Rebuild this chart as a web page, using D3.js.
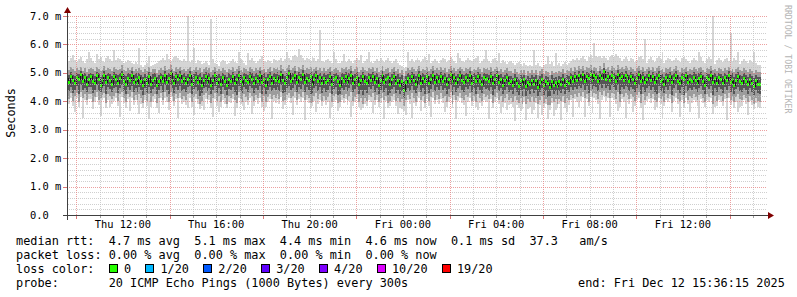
<!DOCTYPE html>
<html>
<head>
<meta charset="utf-8">
<script src="https://cdn.jsdelivr.net/npm/d3@7"></script>
<style>
body { margin: 0; background: #fff; }
svg { display: block; }
text { font-family: "DejaVu Sans Mono", monospace; white-space: pre; }
</style>
</head>
<body>
<svg id="chart" width="797" height="297"></svg>
<script>
// one value per 300s step, first step ends Thu Dec 11 09:40 (values in 1/100 ms)
var median = [
482,468,490,475,463,487,478,495,470,484,461,479,
488,472,466,491,480,458,476,493,469,485,474,462,
489,477,465,483,496,471,460,481,474,492,467,479,
463,485,470,458,478,466,489,460,474,482,457,471,
486,473,494,468,481,499,475,463,488,478,492,470,
481,466,479,493,460,475,487,469,483,458,476,490,
468,482,457,474,491,466,479,462,485,471,459,480,
473,488,465,478,494,470,461,486,476,467,490,479,
464,483,472,491,469,480,458,477,489,466,482,474,
487,471,495,476,463,484,498,472,481,493,467,486,
478,496,469,483,474,489,461,480,492,471,485,463,
482,467,475,490,462,479,486,470,458,483,473,488,
469,481,494,465,477,487,460,475,489,472,463,484,
476,490,468,482,459,474,492,467,480,485,462,478,
488,464,476,459,471,440,468,483,470,490,475,462,
479,493,466,481,472,488,463,477,494,469,484,471,
490,473,482,461,478,495,470,484,466,479,491,474,
467,485,476,492,464,481,470,488,473,462,486,478,
483,470,489,465,477,492,468,480,459,475,487,466,
472,458,480,466,455,474,462,477,453,469,460,476,
461,474,452,467,479,456,470,463,450,472,458,468,
455,470,462,478,457,473,466,484,471,488,476,492,
480,495,472,489,483,497,476,491,485,470,494,482,
508,479,490,474,493,486,471,496,481,488,475,492,
485,470,489,477,464,483,495,473,487,468,480,491,
474,488,467,483,492,470,479,461,486,475,490,469,
482,494,471,463,485,478,491,468,480,473,487,476,
466,483,490,472,459,486,477,492,469,481,464,485,
478,463,487,474,491,468,480,459,476,489,470,465,
483,471,460,478,466,455,474,462,460
];

var pingQ3 = [
497,492,503,494,489,500,496,506,491,499,488,497,
501,495,490,504,498,487,494,507,492,500,496,489,
502,497,491,499,508,493,488,498,495,505,492,499,
488,500,493,485,497,490,503,487,495,498,484,494,
501,494,506,491,499,511,496,489,503,497,505,493,
498,490,496,505,487,495,502,492,499,486,496,503,
492,499,486,494,504,490,497,488,501,493,485,498,
494,502,490,497,507,493,487,501,496,491,504,498,
489,500,494,505,492,498,486,496,503,490,499,495,
502,494,508,496,489,501,510,494,499,506,491,502,
497,509,492,500,495,503,488,498,505,493,501,489,
499,491,496,503,488,497,501,492,485,500,495,502,
492,498,507,490,496,502,487,494,503,493,488,500,
495,504,491,499,486,494,506,490,497,501,487,496,
502,489,495,484,492,470,490,499,493,504,495,488,
496,506,490,498,493,502,488,495,507,492,500,494,
504,494,499,487,496,508,492,500,490,497,505,495,
491,501,495,505,489,498,493,502,495,487,500,497,
499,492,503,489,496,505,491,497,485,494,501,490,
490,482,495,486,478,492,484,494,477,488,482,493,
484,492,477,488,495,480,490,485,475,491,481,487,
480,490,485,495,482,492,488,500,491,503,494,506,
497,508,492,503,499,510,494,505,500,491,507,498,
518,497,504,494,507,501,492,509,498,503,495,506,
500,492,503,496,488,499,508,494,502,490,497,505,
494,502,490,499,506,492,497,486,501,495,504,491,
498,507,493,487,500,496,504,491,497,494,502,495,
490,499,504,494,485,501,496,506,492,498,488,500,
496,488,501,494,505,491,498,485,495,503,492,489,
499,493,486,496,490,482,494,487,485
];

var pingQ1 = [
448,437,452,430,441,455,425,458,439,446,432,450,
451,428,440,456,435,431,447,453,426,449,442,434,
445,452,429,448,457,437,427,450,441,455,433,446,
431,449,438,422,447,430,452,428,443,451,424,440,
453,434,456,441,427,458,445,430,450,439,454,436,
444,431,449,455,426,442,451,437,420,429,446,452,
436,447,424,440,453,430,446,427,449,438,421,444,
439,452,433,423,455,437,428,450,442,434,454,445,
430,448,438,454,425,446,427,441,452,435,447,440,
450,437,458,429,431,448,455,439,446,457,433,451,
443,457,432,449,440,424,428,446,453,436,450,430,
447,433,441,453,427,444,450,422,425,448,439,452,
435,446,456,431,443,451,426,440,421,438,430,449,
442,454,434,447,426,440,455,433,445,423,429,444,
451,430,441,425,437,410,434,448,436,453,441,428,
445,456,432,447,424,452,430,443,457,435,449,438,
453,439,447,427,444,457,421,449,433,445,454,440,
434,449,442,455,431,446,425,451,439,429,450,444,
448,436,452,422,443,455,435,446,427,441,451,432,
438,425,445,433,422,440,419,443,420,436,427,442,
428,440,418,434,445,423,437,415,417,439,425,435,
421,437,429,444,424,440,433,449,438,452,443,455,
446,458,439,453,428,460,443,455,450,437,457,448,
462,445,454,441,456,451,438,458,427,452,442,455,
449,436,452,443,431,448,457,424,450,434,445,454,
440,452,433,426,455,437,445,428,450,441,453,422,
447,456,438,430,449,423,454,435,446,439,451,442,
432,448,453,439,426,450,444,455,421,446,431,449,
444,430,451,440,454,434,447,425,442,452,437,432,
448,438,427,445,433,421,441,429,427
];

var ping90 = [
513,509,519,512,505,518,511,522,507,516,504,514,
517,512,508,521,514,506,511,524,509,517,513,507,
519,513,509,515,526,510,505,516,511,522,508,515,
506,517,510,502,514,507,519,503,512,515,501,511,
518,510,523,509,515,528,513,506,520,514,521,510,
515,507,512,522,505,511,519,509,516,503,512,520,
509,516,504,511,521,507,514,505,518,510,502,515,
511,519,507,514,524,510,504,518,513,508,521,515,
507,517,511,522,509,515,503,513,520,507,516,512,
519,511,526,513,506,518,528,511,516,524,508,519,
514,527,509,517,512,520,505,515,522,510,518,506,
516,508,513,520,505,514,518,509,502,517,512,519,
509,515,524,507,513,519,504,511,520,510,505,517,
512,521,508,516,503,511,523,507,514,518,504,513,
519,506,512,501,509,488,507,516,510,521,512,505,
513,523,507,515,510,519,505,512,524,509,517,511,
521,511,516,504,513,525,509,517,507,514,522,512,
508,518,512,522,506,515,510,519,512,504,517,514,
516,509,520,506,513,522,508,514,502,511,518,507,
507,499,512,503,495,509,501,511,494,505,499,510,
501,509,494,505,512,497,507,502,492,508,498,504,
497,507,502,512,499,509,505,517,508,520,511,523,
514,525,509,520,516,527,511,522,517,508,524,515,
533,514,521,511,524,518,509,526,515,520,512,523,
517,509,520,513,505,516,525,511,519,507,514,522,
511,519,507,516,523,509,514,503,518,512,521,508,
515,524,510,504,517,513,521,508,514,511,519,512,
507,516,521,511,502,518,513,523,509,515,505,517,
513,505,518,511,522,508,515,502,512,520,509,506,
516,510,503,513,507,499,511,504,502
];

var ping10 = [
421,409,428,401,418,430,397,433,412,424,405,426,
427,398,415,432,406,410,423,429,395,425,419,407,
419,428,400,424,433,411,396,426,414,431,403,422,
404,425,410,393,421,402,427,399,417,426,394,413,
429,405,431,415,398,434,420,402,426,411,430,408,
418,403,424,430,396,415,427,409,391,400,421,428,
408,422,395,413,428,401,420,398,424,410,392,417,
411,427,404,394,431,409,399,425,415,406,429,419,
401,423,410,429,396,420,398,414,427,407,421,412,
425,409,433,400,403,422,430,411,420,432,404,426,
416,432,403,423,412,395,399,420,428,408,424,401,
420,404,414,428,398,417,425,393,396,422,411,427,
406,419,431,402,416,426,397,412,392,410,401,423,
414,429,405,421,397,411,430,404,418,394,400,417,
425,401,413,396,409,385,405,422,407,428,413,399,
418,431,403,420,395,426,401,415,432,406,423,409,
428,411,419,398,416,432,392,422,404,418,429,412,
405,422,414,430,402,419,396,425,411,400,424,416,
421,407,426,393,415,430,406,419,398,413,425,403,
410,396,418,404,393,412,390,415,391,407,398,414,
399,412,389,405,418,394,409,386,388,411,396,407,
392,409,400,417,395,412,404,422,410,426,415,429,
419,433,411,427,399,435,415,429,424,408,431,421,
437,418,428,413,430,425,409,433,398,426,414,429,
422,407,426,415,402,421,431,395,424,405,418,428,
412,427,404,397,430,408,418,399,424,413,427,393,
420,430,409,401,423,394,428,406,419,411,425,414,
403,422,427,411,397,424,416,429,392,419,402,422,
417,401,425,412,428,405,420,396,414,426,408,403,
421,410,398,418,405,392,413,400,398
];

var pingMin = [
402,390,410,385,364,412,380,415,340,405,388,407,
408,372,397,414,388,350,404,411,378,406,380,390,
401,410,384,345,415,393,378,408,366,412,386,404,
386,355,392,376,403,385,338,381,399,408,377,360,
410,388,412,397,368,415,402,385,408,342,411,390,
399,386,376,411,380,352,408,391,374,383,368,409,
390,403,378,345,409,384,362,381,405,392,375,399,
393,408,348,377,412,391,382,371,397,388,410,356,
384,404,392,410,379,365,381,396,408,337,402,394,
406,391,414,372,386,403,411,393,351,413,387,407,
398,413,335,404,394,378,382,401,362,390,405,384,
401,387,396,340,381,398,406,366,379,403,393,408,
388,401,345,385,398,407,380,371,375,392,384,404,
396,358,388,403,380,393,411,336,400,377,383,398,
406,384,354,378,374,366,352,403,389,340,395,382,
399,412,367,402,378,407,384,343,413,389,404,391,
409,393,362,381,398,413,375,403,338,400,410,394,
387,349,396,411,385,401,379,371,393,383,405,398,
402,336,407,376,397,411,389,360,381,395,371,386,
392,379,330,386,375,365,372,397,333,372,380,356,
368,394,340,387,352,377,391,337,370,393,348,370,
375,391,333,399,378,362,386,404,345,407,397,380,
401,414,344,409,382,416,360,410,406,390,338,403,
418,400,410,345,412,406,391,366,380,408,396,342,
404,389,408,361,384,403,412,377,335,387,400,409,
394,409,370,380,411,390,342,383,405,396,408,364,
402,412,391,346,405,377,410,389,361,393,406,396,
385,340,409,393,379,406,398,411,355,380,384,404,
399,384,407,335,410,387,402,378,396,362,380,385,
403,392,352,400,387,374,395,380,375
];

var pingMax = [
548,540,552,563,545,538,550,556,542,536,547,573,
553,541,535,566,549,555,543,539,552,558,549,540,
580,545,553,548,541,534,539,546,543,535,531,537,
530,587,528,522,526,534,559,523,527,532,536,541,
546,553,545,565,549,540,547,555,560,551,545,543,
549,541,700,538,546,587,536,544,540,531,536,543,
535,528,690,548,536,532,524,539,546,540,530,535,
543,550,537,533,575,548,544,536,529,570,546,551,
542,533,540,547,560,543,537,545,541,534,548,544,
538,546,552,543,550,573,553,545,559,564,555,585,
562,551,545,554,548,540,556,551,543,547,650,541,
538,545,550,543,535,575,548,536,533,540,565,539,
543,549,541,535,546,552,544,563,533,542,550,572,
539,534,542,548,540,553,546,538,544,551,542,535,
541,547,535,528,523,517,520,573,543,549,538,545,
551,544,537,548,555,546,565,534,543,550,542,536,
545,553,547,539,544,555,549,541,535,570,552,543,
537,544,551,545,540,548,554,560,536,541,549,580,
550,542,535,547,553,541,570,533,544,539,531,537,
543,535,528,533,539,530,525,534,527,523,529,525,
580,528,535,525,519,527,532,560,530,537,525,570,
527,534,524,531,537,528,535,543,549,545,554,546,
552,558,550,543,556,562,553,605,560,555,560,553,
561,552,545,556,563,555,565,559,552,542,550,557,
549,541,554,547,539,544,555,560,549,620,536,548,
556,546,539,552,558,549,572,535,545,554,547,540,
546,553,544,537,551,557,547,540,534,544,552,546,
539,573,555,542,536,550,556,547,700,532,545,552,
544,537,547,554,541,640,543,551,545,575,532,541,
549,540,534,544,537,572,536,529,526
];

var yTicks = [0, 1, 2, 3, 4, 5, 6, 7];
var lossLabels = ["0", "1/20", "2/20", "3/20", "4/20", "10/20", "19/20"];
var lossColors = ["#26ff00", "#00b8ff", "#0059ff", "#5e00ff", "#7e00ff", "#dd00ff", "#ff0000"];
var legendLines = [
  "median rtt:  4.7 ms avg  5.1 ms max  4.4 ms min  4.6 ms now  0.1 ms sd  37.3   am/s",
  "packet loss: 0.00 % avg  0.00 % max  0.00 % min  0.00 % now",
  "loss color:",
  "probe:       20 ICMP Echo Pings (1000 Bytes) every 300s"
];
var endLabel = "end: Fri Dec 12 15:36:15 2025";

var svg = d3.select("#chart");
var start = new Date(Date.UTC(2025, 11, 11, 9, 36, 15)),
    end = new Date(Date.UTC(2025, 11, 12, 15, 36, 15));
var firstStep = Date.UTC(2025, 11, 11, 9, 40, 0),
    stepMs = 300000;

var x = d3.scaleTime().domain([start, end]).range([67, 767]);
var y = d3.scaleLinear().domain([0, 7]).range([215, 16]);
function py(v) { return Math.round(y(Math.min(7, v))); }

var points = median.map(function(m, i) {
    var t = firstStep + i * stepMs;
    return {
        x0: Math.round(x(new Date(t - stepMs))),
        x1: Math.round(x(new Date(t))),
        med: m / 100,
        lo: pingMin[i] / 100, p10: ping10[i] / 100, q1: pingQ1[i] / 100,
        q3: pingQ3[i] / 100, p90: ping90[i] / 100, hi: pingMax[i] / 100
    };
});

// checkerboard patterns give 1-on 1-off dotted grid lines
var defs = svg.append("defs");
[["dotMinor", "rgba(191,191,191,0.75)"], ["dotMajor", "rgba(230,128,128,0.75)"]].forEach(function(p) {
    var pat = defs.append("pattern").attr("id", p[0])
        .attr("patternUnits", "userSpaceOnUse").attr("width", 2).attr("height", 2);
    pat.append("rect").attr("x", 0).attr("y", 0).attr("width", 1).attr("height", 1).attr("fill", p[1]);
    pat.append("rect").attr("x", 1).attr("y", 1).attr("width", 1).attr("height", 1).attr("fill", p[1]);
});

// smoke, lightest band first
var bands = [["lo", "hi", "#d5d5d5"], ["p10", "p90", "#9c9c9c"], ["q1", "q3", "#565656"]];
bands.forEach(function(b) {
    svg.append("g")
        .attr("shape-rendering", "crispEdges")
        .attr("fill", b[2])
        .selectAll("rect")
        .data(points)
        .join("rect")
        .attr("x", function(d) { return d.x0; })
        .attr("width", function(d) { return d.x1 - d.x0; })
        .attr("y", function(d) { return py(Math.max(d[b[0]], d[b[1]])); })
        .attr("height", function(d) { return py(Math.min(d[b[0]], d[b[1]])) - py(Math.max(d[b[0]], d[b[1]])); });
});

// dark median connectors
var stepLine = d3.line()
    .x(function(d) { return d.x0; })
    .y(function(d) { return py(d.med) + 0.5; })
    .curve(d3.curveStepAfter);
svg.append("path")
    .datum(points)
    .attr("d", stepLine)
    .attr("fill", "none")
    .attr("stroke", "#1a1a1a")
    .attr("stroke-width", 1)
    .attr("shape-rendering", "crispEdges");

// median coloured by loss (all 0 loss)
svg.append("g")
    .attr("shape-rendering", "crispEdges")
    .attr("fill", lossColors[0])
    .selectAll("rect")
    .data(points)
    .join("rect")
    .attr("x", function(d) { return d.x0; })
    .attr("width", function(d) { return d.x1 - d.x0; })
    .attr("y", function(d) { return py(d.med) - 1; })
    .attr("height", 3);

// grid, drawn over the graph like rrdtool
var minorY = d3.range(1, 36).map(function(k) { return k / 5; })
    .filter(function(v) { return Math.abs(v - Math.round(v)) > 1e-6; });
var hours = d3.utcHour.range(start, end);
var isMajor = function(h) { return h.getUTCHours() % 4 == 2; };
var minorHours = hours.filter(function(h) { return !isMajor(h); }),
    majorHours = hours.filter(isMajor);

function gridLines(cls, yVals, tVals, pat) {
    var g = svg.append("g").attr("class", cls).attr("shape-rendering", "crispEdges").attr("fill", "url(#" + pat + ")");
    g.selectAll("rect.h").data(yVals).join("rect").attr("class", "h")
        .attr("x", 67).attr("width", 700)
        .attr("y", function(v) { return py(v); }).attr("height", 1);
    g.selectAll("rect.v").data(tVals).join("rect").attr("class", "v")
        .attr("x", function(h) { return Math.round(x(h)); }).attr("width", 1)
        .attr("y", 16).attr("height", 199);
}
gridLines("grid-minor", minorY, minorHours, "dotMinor");
gridLines("grid-major", yTicks.slice(1), majorHours, "dotMajor");

// ticks
var tickG = svg.append("g").attr("shape-rendering", "crispEdges");
tickG.selectAll("rect.xt").data(hours).join("rect").attr("class", "xt")
    .attr("x", function(h) { return Math.round(x(h)); }).attr("width", 1)
    .attr("y", 216).attr("height", function(h) { return isMajor(h) ? 3 : 2; })
    .attr("fill", function(h) { return isMajor(h) ? "rgb(220,120,120)" : "rgb(160,160,160)"; });
tickG.selectAll("rect.yt").data(yTicks).join("rect").attr("class", "yt")
    .attr("x", 63).attr("width", 4)
    .attr("y", function(v) { return py(v); }).attr("height", 1)
    .attr("fill", "rgb(220,120,120)");

// axes with arrows
svg.append("path").attr("d", "M63,215.5H769M67.5,220V12")
    .attr("stroke", "#404040").attr("fill", "none");
svg.append("path").attr("d", "M768,212L774,215.5L768,219Z").attr("fill", "#800000");
svg.append("path").attr("d", "M64,13L67.5,7L71,13Z").attr("fill", "#800000");

// axis labels
svg.append("g").selectAll("text").data(yTicks).join("text")
    .attr("x", 30)
    .attr("y", function(v) { return y(v) + 3.5; })
    .attr("font-size", "10.4px")
    .text(function(v) { return v == 0 ? "0.0" : v.toFixed(1) + " m"; });
var labelHours = hours.filter(function(h) { return h.getUTCHours() % 4 == 0; });
var fmt = d3.utcFormat("%a %H:%M");
svg.append("g").selectAll("text").data(labelHours).join("text")
    .attr("x", function(h) { return x(h); })
    .attr("y", 228)
    .attr("text-anchor", "middle")
    .attr("font-size", "10.4px")
    .text(fmt);

svg.append("text")
    .attr("transform", "translate(15,113) rotate(-90)")
    .attr("text-anchor", "middle")
    .attr("font-size", "11.8px")
    .text("Seconds");

svg.append("text")
    .attr("transform", "translate(785,5) rotate(90)")
    .attr("font-size", "8.2px")
    .attr("fill", "#b4b4b4")
    .text("RRDTOOL / TOBI OETIKER");

// legend
svg.append("g").selectAll("text").data(legendLines).join("text")
    .attr("x", 16)
    .attr("y", function(d, i) { return 245 + i * 14; })
    .attr("font-size", "11.85px")
    .text(function(d) { return d; });

var bx = 109, cw = 7.14;
var lossG = svg.append("g");
lossLabels.forEach(function(lab, i) {
    lossG.append("rect")
        .attr("x", bx + 0.5).attr("y", 264.5).attr("width", 8).attr("height", 8)
        .attr("fill", lossColors[i]).attr("stroke", "#000")
        .attr("shape-rendering", "crispEdges");
    lossG.append("text")
        .attr("x", bx + 15).attr("y", 273)
        .attr("font-size", "11.85px")
        .text(lab);
    bx = bx + 15 + lab.length * cw + 14.3;
});

svg.append("text")
    .attr("x", 578).attr("y", 287)
    .attr("font-size", "11.85px")
    .text(endLabel);
</script>
</body>
</html>
